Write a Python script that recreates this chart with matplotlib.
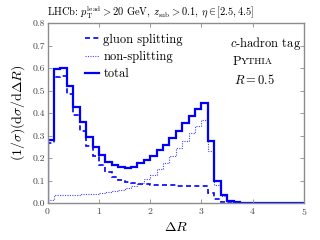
import numpy as np
import matplotlib
matplotlib.use("Agg")
import matplotlib.pyplot as plt

plt.rcParams["font.family"] = "serif"
plt.rcParams["font.serif"] = ["cmr10", "DejaVu Serif"]
plt.rcParams["mathtext.fontset"] = "cm"
plt.rcParams["axes.formatter.use_mathtext"] = True

# 40 bins of width 0.125 over 0 < dR < 5
bin_edges = np.linspace(0.0, 5.0, 41)

total = [0.280, 0.598, 0.603, 0.522, 0.429, 0.359, 0.295, 0.251, 0.214, 0.184,
         0.169, 0.162, 0.157, 0.162, 0.177, 0.191, 0.209, 0.236, 0.258, 0.288,
         0.322, 0.355, 0.387, 0.417, 0.444, 0.277, 0.099, 0.036, 0.010, 0.003,
         0, 0, 0, 0, 0, 0, 0, 0, 0, 0]

gluon_splitting = [0.265, 0.562, 0.565, 0.485, 0.391, 0.320, 0.255, 0.209, 0.169, 0.136,
                   0.117, 0.104, 0.092, 0.088, 0.086, 0.084, 0.082, 0.082, 0.080, 0.079,
                   0.078, 0.077, 0.077, 0.076, 0.075, 0.045, 0.018, 0.005, 0.001, 0.0,
                   0, 0, 0, 0, 0, 0, 0, 0, 0, 0]

non_splitting = [0.013, 0.035, 0.036, 0.037, 0.038, 0.039, 0.040, 0.042, 0.045, 0.048,
                 0.052, 0.058, 0.065, 0.075, 0.090, 0.106, 0.126, 0.152, 0.178, 0.210,
                 0.244, 0.278, 0.310, 0.342, 0.369, 0.233, 0.080, 0.030, 0.008, 0.002,
                 0, 0, 0, 0, 0, 0, 0, 0, 0, 0]

blue = "#0000ff"

fig = plt.figure(figsize=(3.2, 2.4), dpi=100)
ax = fig.add_axes([0.149, 0.154, 0.801, 0.749])

ax.stairs(gluon_splitting, bin_edges, color=blue, lw=1.2, ls=(0, (3, 2)),
          label="gluon splitting")
ax.stairs(non_splitting, bin_edges, color="#4646ff", lw=0.8, ls=(0, (1, 1.2)),
          label="non-splitting")
ax.stairs(total, bin_edges, color=blue, lw=1.6, label="total")

ax.set_xlim(0, 5)
ax.set_ylim(0, 0.8)
ax.set_xticks(range(6))
ax.set_yticks(np.arange(0, 0.81, 0.1))
ax.set_yticklabels([f"{v:.1f}" for v in np.arange(0, 0.81, 0.1)])

for sp in ax.spines.values():
    sp.set_color("#8c8c8c")
    sp.set_linewidth(1.0)
ax.tick_params(direction="in", top=True, right=True, colors="#8c8c8c",
               labelcolor="#444444", labelsize=7, length=3, width=0.6, pad=2)

ax.set_xlabel(r"$\Delta R$", fontsize=10, labelpad=3)
ax.set_ylabel(r"$(1/\sigma)(\mathrm{d}\sigma/\mathrm{d}\Delta R)$", fontsize=10, labelpad=4)

fig.text(0.47, 0.945, r"LHCb: $p_{\mathrm{T}}^{\mathrm{lead}} > 20$ GeV, $z_{\mathrm{sub}} > 0.1$, $\eta \in [2.5, 4.5]$",
         ha="center", va="center", fontsize=7.5)

leg = ax.legend(loc="upper left", bbox_to_anchor=(0.115, 0.985), frameon=False,
                fontsize=9, handlelength=1.15, handletextpad=0.35, labelspacing=0.42,
                borderaxespad=0.2)

ax.text(0.71, 0.885, r"$c$-hadron tag", transform=ax.transAxes, fontsize=9,
        ha="left", va="center")
ax.text(0.722, 0.785, "P", transform=ax.transAxes, fontsize=9, ha="left", va="center")
ax.text(0.752, 0.785, "YTHIA", transform=ax.transAxes, fontsize=7, ha="left",
        va="center")
ax.text(0.725, 0.685, r"$R = 0.5$", transform=ax.transAxes, fontsize=9,
        ha="left", va="center")

fig.savefig("out.png", dpi=100)
